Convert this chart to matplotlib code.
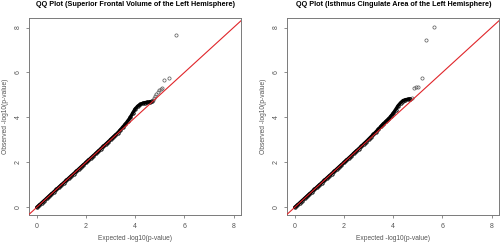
import matplotlib
matplotlib.use('Agg')
import matplotlib.pyplot as plt

plt.rcParams['font.family'] = ['Liberation Sans', 'DejaVu Sans']

titles = ['QQ Plot (Superior Frontal Volume of the Left Hemisphere)',
          'QQ Plot (Isthmus Cingulate Area of the Left Hemisphere)']
x_label = 'Expected -log10(p-value)'
y_label = 'Observed -log10(p-value)'
ticks = [0, 2, 4, 6, 8]

# dense body of the QQ curve (expected, observed)
sf_exp = [0.0, 0.1, 0.2, 0.3, 0.4, 0.5, 0.6, 0.7, 0.8, 0.9, 1.0, 1.1, 1.2, 1.3, 1.4,
          1.5, 1.6, 1.7, 1.8, 1.9, 2.0, 2.1, 2.2, 2.3, 2.4, 2.5, 2.6, 2.7, 2.8, 2.9,
          3.0, 3.1, 3.2, 3.3, 3.4, 3.5, 3.6, 3.7, 3.8, 3.9, 4.0, 4.1, 4.2, 4.3, 4.4,
          4.5, 4.6, 4.7]
sf_obs = [0.0, 0.1, 0.2, 0.3, 0.4, 0.5, 0.6, 0.7, 0.8, 0.9, 1.0, 1.1, 1.2, 1.3, 1.4,
          1.5, 1.6, 1.7, 1.8, 1.9, 2.0, 2.1, 2.2, 2.3, 2.4, 2.5, 2.61, 2.71, 2.81, 2.91,
          3.02, 3.12, 3.22, 3.33, 3.45, 3.58, 3.70, 3.85, 4.00, 4.20, 4.38, 4.50, 4.58,
          4.63, 4.66, 4.68, 4.70, 4.72]
# sparse tail points
sf_tail_exp = [4.72, 4.76, 4.81, 4.86, 4.92, 4.98, 5.05, 5.10, 5.19, 5.37, 5.67]
sf_tail_obs = [4.78, 4.86, 4.96, 5.05, 5.13, 5.20, 5.27, 5.33, 5.66, 5.76, 7.66]

ic_exp = sf_exp
ic_obs = [0.0, 0.1, 0.2, 0.3, 0.4, 0.5, 0.6, 0.7, 0.8, 0.9, 1.0, 1.1, 1.2, 1.3, 1.4,
          1.5, 1.6, 1.7, 1.8, 1.9, 2.0, 2.1, 2.2, 2.3, 2.41, 2.51, 2.61, 2.71, 2.82, 2.92,
          3.03, 3.14, 3.25, 3.36, 3.48, 3.60, 3.72, 3.82, 3.92, 4.05, 4.18, 4.35, 4.52,
          4.65, 4.75, 4.79, 4.81, 4.83]
ic_tail_exp = [4.75, 4.85, 4.92, 5.00, 5.18, 5.35, 5.66]
ic_tail_obs = [4.85, 5.33, 5.35, 5.36, 5.77, 7.45, 8.02]

panels = [
    (titles[0], sf_exp, sf_obs, sf_tail_exp, sf_tail_obs, [0.0584, 0.1224, 0.4226, 0.8029]),
    (titles[1], ic_exp, ic_obs, ic_tail_exp, ic_tail_obs, [0.5723, 0.1224, 0.4226, 0.8029]),
]

fig = plt.figure(figsize=(5.02, 2.45), dpi=100)
grey = '#7a7a7a'
for title, ex, ob, tex, tob, rect in panels:
    ax = fig.add_axes(rect)
    xlim = (-0.30, 8.32)
    ylim = (-0.34, 8.41)
    ax.set_xlim(*xlim)
    ax.set_ylim(*ylim)
    ax.plot(ex, ob, color='black', lw=2.4, solid_capstyle='round', zorder=2)
    ax.plot(ex, ob, 'o', ms=2.4, mfc='none', mec='black', mew=0.7, zorder=2)
    ax.plot(tex, tob, 'o', ms=2.3, mfc='none', mec='#555555', mew=0.5, zorder=2)
    ax.plot([xlim[0], xlim[1]], [xlim[0], xlim[1]], color='#e0252a', lw=0.8, zorder=3)
    ax.set_xticks(ticks)
    ax.set_yticks(ticks)
    ax.set_xticklabels([str(t) for t in ticks])
    ax.set_yticklabels([str(t) for t in ticks], rotation=90, va='center')
    ax.tick_params(length=2.5, width=0.6, color=grey, labelsize=5.0,
                   labelcolor='#555555', pad=3)
    for s in ax.spines.values():
        s.set_color(grey)
        s.set_linewidth(0.7)
    ax.set_xlabel(x_label, fontsize=4.8, color='#555555', labelpad=4)
    ax.set_ylabel(y_label, fontsize=4.8, color='#555555', labelpad=4)
    ax.set_title(title, fontsize=5.2, fontweight='bold', pad=9)

fig.savefig('out.png', dpi=100)
